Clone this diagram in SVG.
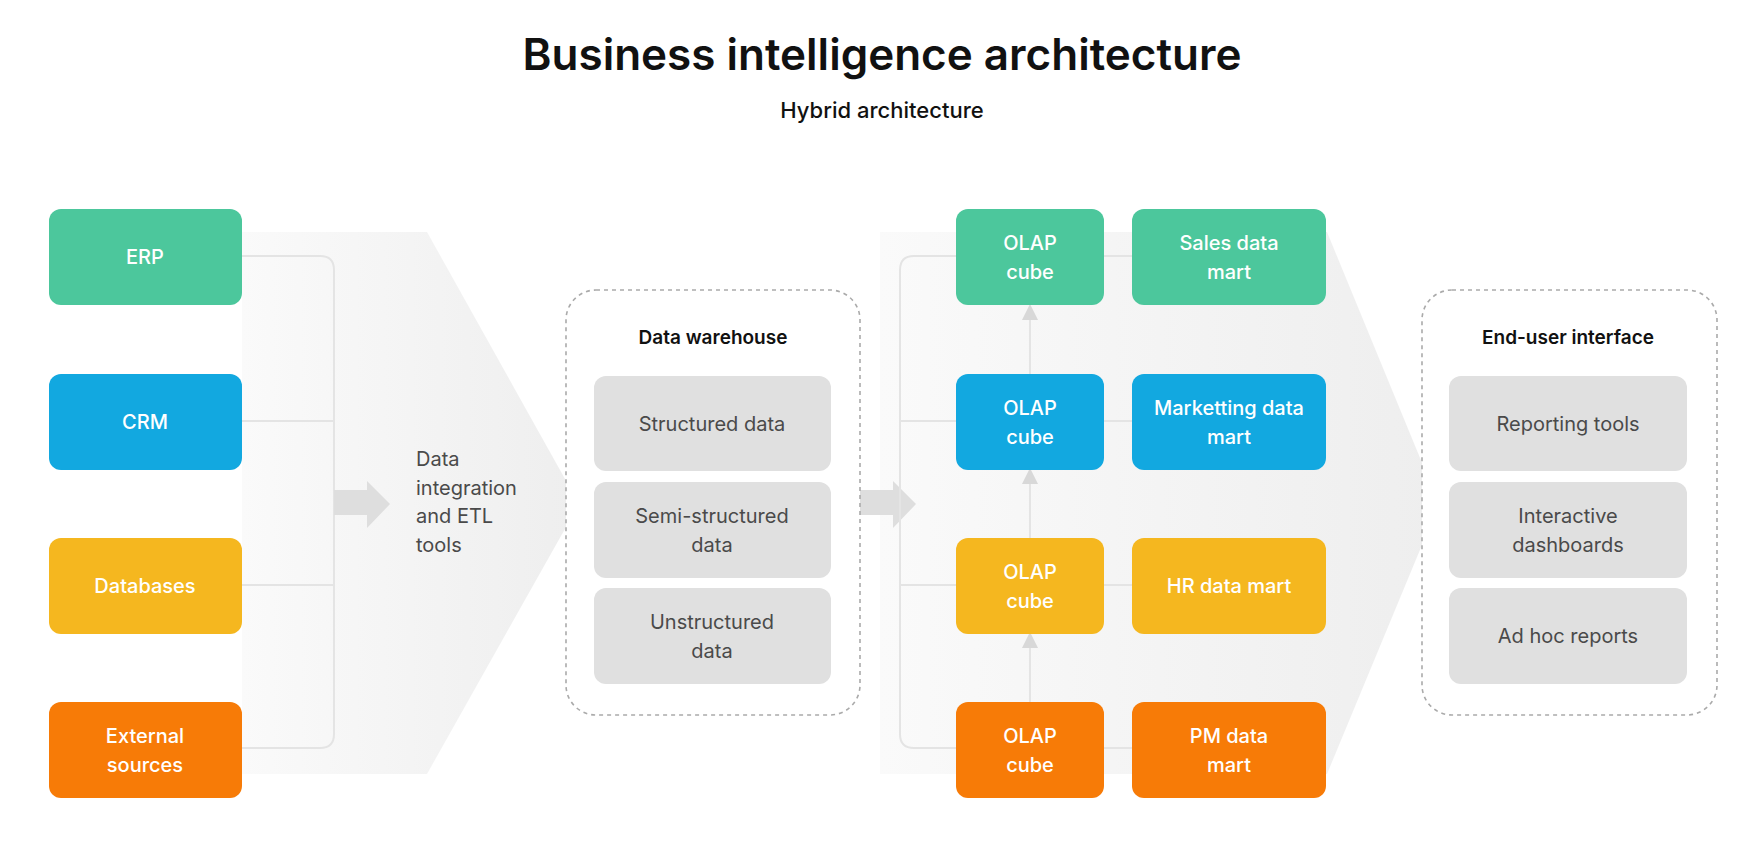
<svg xmlns="http://www.w3.org/2000/svg" width="1763" height="850" viewBox="0 0 1763 850">
<defs>
<style>
text{font-family:Inter,"Noto Sans","Liberation Sans",sans-serif;text-anchor:middle}
.w{fill:#fff;font-size:20px;font-weight:500}
.g{fill:#4a4a4a;font-size:20px}
.h{fill:#111;font-size:19px;font-weight:600}
.grn{fill:#4cc79c}.blu{fill:#12a8e0}.yel{fill:#f5b71f}.org{fill:#f77b07}
.in{fill:#e0e0e0}
.ln{fill:none;stroke:#e4e4e4;stroke-width:2}
.dash{fill:#fff;stroke:#aaa;stroke-width:1.6;stroke-dasharray:4 4}
</style>
<linearGradient id="bg" x1="0" x2="1" y1="0" y2="0">
<stop offset="0" stop-color="#fafafa"/><stop offset="1" stop-color="#eeeeee"/>
</linearGradient>
<marker id="ah" markerWidth="8" markerHeight="8" refX="4" refY="4" orient="auto"><path d="M0,0 L8,4 L0,8 z" fill="#d8d8d8"/></marker>
</defs>
<rect width="1763" height="850" fill="#fff"/>
<text x="882" y="70" style="font-size:44px;font-weight:600;fill:#111">Business intelligence architecture</text>
<text x="882" y="118" style="font-size:22px;font-weight:500;fill:#111">Hybrid architecture</text>

<polygon points="242,232 427,232 579,504 427,774 242,774" fill="url(#bg)"/>
<polygon points="880,232 1327,232 1439,504 1327,774 880,774" fill="url(#bg)"/>

<g id="connectors">
<path class="ln" d="M242,256 H320 Q334,256 334,270 V734 Q334,748 320,748 H242 M242,421 H334 M242,585 H334"/>
<path d="M334,490 H367 V481 L390,504 L367,528 V515 H334 Z" fill="#dedede"/>
<path d="M860,490 H893 V481 L916,504 L893,528 V515 H860 Z" fill="#dedede"/>
<path class="ln" d="M956,256 H914 Q900,256 900,270 V734 Q900,748 914,748 H956 M900,421 H956 M900,585 H956 M1104,256 H1132 M1104,421 H1132 M1104,585 H1132 M1104,748 H1132"/>
<line class="ln" x1="1030" y1="702" x2="1030" y2="640" marker-end="url(#ah)"/>
<line class="ln" x1="1030" y1="538" x2="1030" y2="476" marker-end="url(#ah)"/>
<line class="ln" x1="1030" y1="374" x2="1030" y2="312" marker-end="url(#ah)"/>
</g>

<g id="etl"><text class="g" style="text-anchor:start" x="416" y="466">Data</text><text class="g" style="text-anchor:start" x="416" y="495">integration</text><text class="g" style="text-anchor:start" x="416" y="523">and ETL</text><text class="g" style="text-anchor:start" x="416" y="552">tools</text></g>

<g id="erp"><rect class="grn" x="49" y="209" width="193" height="96" rx="12"/><text class="w" x="145" y="264">ERP</text></g>
<g id="crm"><rect class="blu" x="49" y="374" width="193" height="96" rx="12"/><text class="w" x="145" y="429">CRM</text></g>
<g id="databases"><rect class="yel" x="49" y="538" width="193" height="96" rx="12"/><text class="w" x="145" y="593">Databases</text></g>
<g id="external"><rect class="org" x="49" y="702" width="193" height="96" rx="12"/><text class="w" x="145" y="743">External</text><text class="w" x="145" y="772">sources</text></g>

<g id="warehouse"><rect class="dash" x="566" y="290" width="294" height="425" rx="30"/><text class="h" x="713" y="344">Data warehouse</text>
<rect class="in" x="594" y="376" width="237" height="95" rx="12"/><text class="g" x="712" y="431">Structured data</text>
<rect class="in" x="594" y="482" width="237" height="96" rx="12"/><text class="g" x="712" y="523">Semi-structured</text><text class="g" x="712" y="552">data</text>
<rect class="in" x="594" y="588" width="237" height="96" rx="12"/><text class="g" x="712" y="629">Unstructured</text><text class="g" x="712" y="658">data</text></g>

<g id="olap1"><rect class="grn" x="956" y="209" width="148" height="96" rx="12"/><text class="w" x="1030" y="250">OLAP</text><text class="w" x="1030" y="279">cube</text></g>
<g id="olap2"><rect class="blu" x="956" y="374" width="148" height="96" rx="12"/><text class="w" x="1030" y="415">OLAP</text><text class="w" x="1030" y="444">cube</text></g>
<g id="olap3"><rect class="yel" x="956" y="538" width="148" height="96" rx="12"/><text class="w" x="1030" y="579">OLAP</text><text class="w" x="1030" y="608">cube</text></g>
<g id="olap4"><rect class="org" x="956" y="702" width="148" height="96" rx="12"/><text class="w" x="1030" y="743">OLAP</text><text class="w" x="1030" y="772">cube</text></g>
<g id="sales"><rect class="grn" x="1132" y="209" width="194" height="96" rx="12"/><text class="w" x="1229" y="250">Sales data</text><text class="w" x="1229" y="279">mart</text></g>
<g id="marketing"><rect class="blu" x="1132" y="374" width="194" height="96" rx="12"/><text class="w" x="1229" y="415">Marketting data</text><text class="w" x="1229" y="444">mart</text></g>
<g id="hr"><rect class="yel" x="1132" y="538" width="194" height="96" rx="12"/><text class="w" x="1229" y="593">HR data mart</text></g>
<g id="pm"><rect class="org" x="1132" y="702" width="194" height="96" rx="12"/><text class="w" x="1229" y="743">PM data</text><text class="w" x="1229" y="772">mart</text></g>

<g id="enduser"><rect class="dash" x="1422" y="290" width="295" height="425" rx="30"/><text class="h" x="1568" y="344">End-user interface</text>
<rect class="in" x="1449" y="376" width="238" height="95" rx="12"/><text class="g" x="1568" y="431">Reporting tools</text>
<rect class="in" x="1449" y="482" width="238" height="96" rx="12"/><text class="g" x="1568" y="523">Interactive</text><text class="g" x="1568" y="552">dashboards</text>
<rect class="in" x="1449" y="588" width="238" height="96" rx="12"/><text class="g" x="1568" y="643">Ad hoc reports</text></g>
</svg>
